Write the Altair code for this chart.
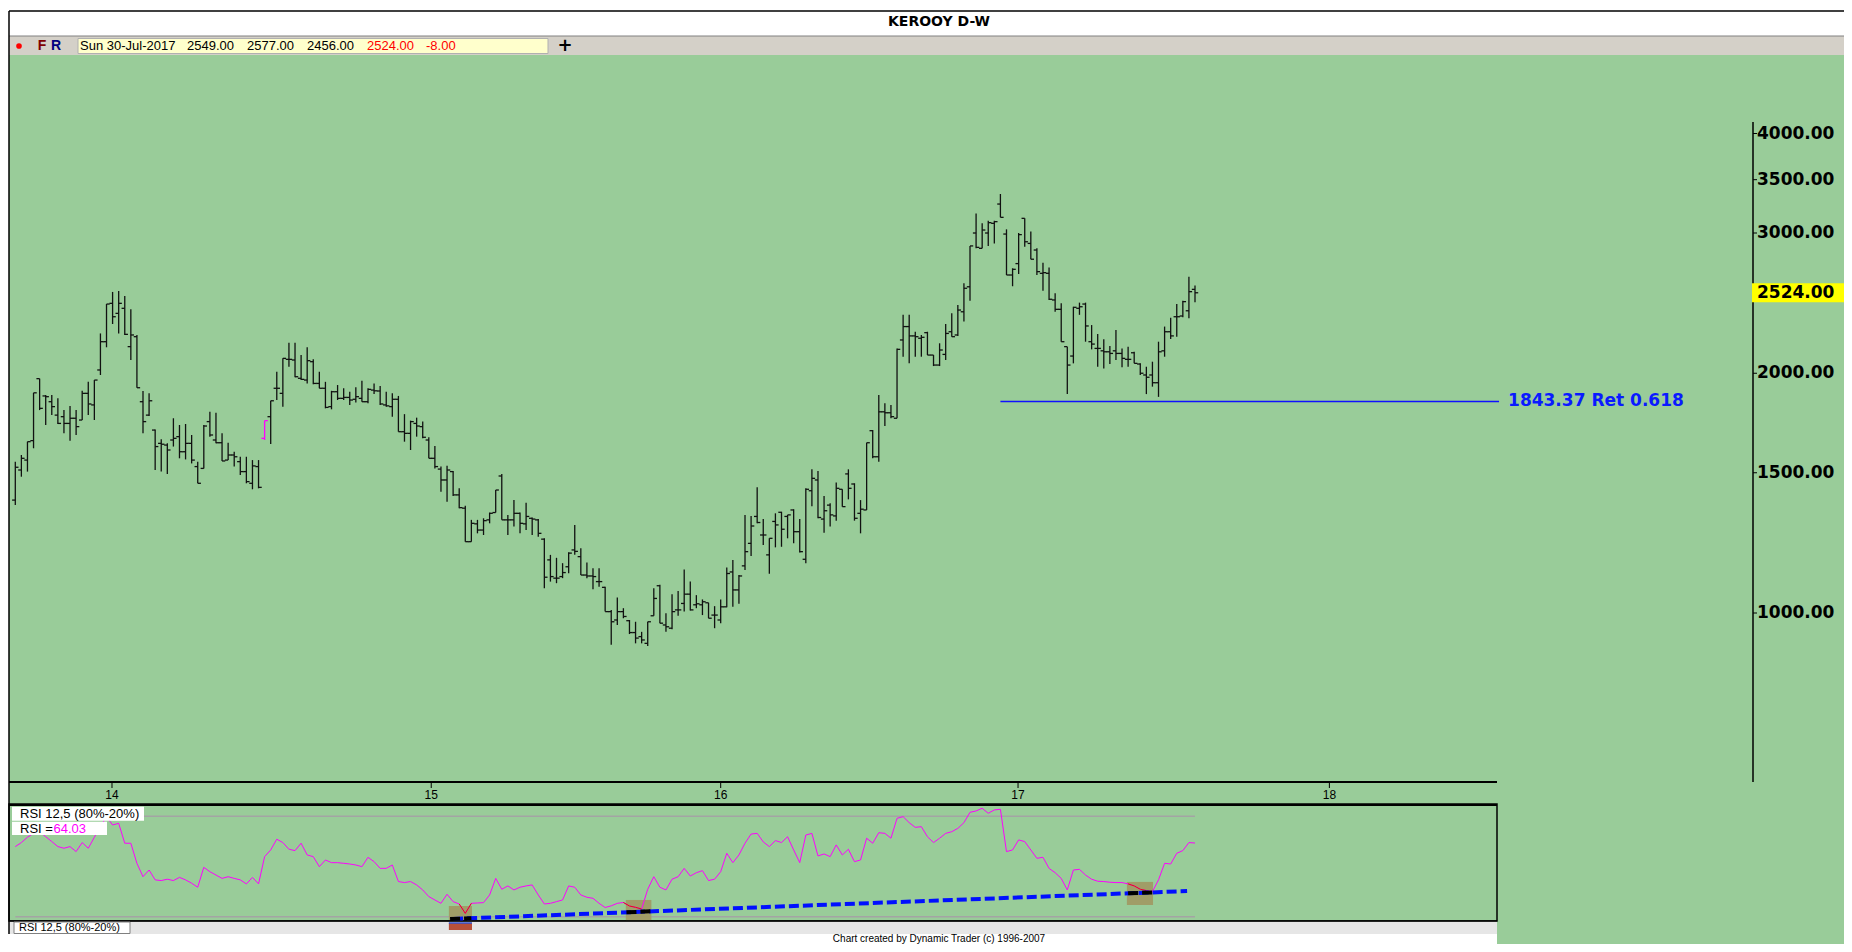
import altair as alt
import pandas as pd

# ---------------- data ----------------
TITLE = "KEROOY D-W"
LAST_DATE = "Sun 30-Jul-2017"

OPEN = [1386, 1512, 1556, 1646, 1969, 1873, 1842, 1772, 1764, 1730,
        1756, 1747, 1887, 1825, 2019, 2191, 2448, 2378, 2413, 2160,
        2223, 1842, 1772, 1697, 1633, 1625, 1649, 1665, 1594, 1633,
        1527, 1519, 1739, 1649, 1636, 1556, 1579, 1549, 1505, 1455,
        1527, 1657, 1764, 1915, 1887, 2082, 2078, 1971, 1961, 2068,
        1942, 1915, 1816, 1896, 1860, 1865, 1855, 1860, 1842, 1905,
        1900, 1825, 1816, 1855, 1689, 1681, 1730, 1714, 1649, 1564,
        1516, 1469, 1505, 1407, 1354, 1229, 1294, 1271, 1309, 1337,
        1486, 1309, 1309, 1334, 1294, 1315, 1309, 1238, 1166, 1106,
        1111, 1143, 1200, 1177, 1116, 1113, 1095, 1077, 1004, 980,
        1004, 978, 945, 934, 916, 992, 1082, 966, 957, 1009,
        1028, 1056, 1024, 1024, 1030, 994, 980, 1018, 1126, 1069,
        1146, 1223, 1322, 1253, 1183, 1303, 1338, 1322, 1347, 1265,
        1168, 1424, 1469, 1312, 1366, 1324, 1430, 1495, 1452, 1334,
        1347, 1694, 1571, 1789, 1784, 1756, 2202, 2289, 2228, 2213,
        2249, 2108, 2048, 2112, 2255, 2234, 2389, 2568, 3000, 2870,
        3000, 3085, 3262, 2991, 2657, 2746, 3130, 2911, 2856, 2670,
        2670, 2472, 2406, 2160, 2102, 2413, 2443, 2191, 2149, 2134,
        2128, 2134, 2118, 2082, 2122, 2054, 1990, 1990, 1946, 2134,
        2255, 2355, 2360, 2396, 2549]
HIGH = [1549, 1579, 1641, 1890, 1969, 1878, 1878, 1860, 1798, 1819,
        1798, 1901, 1951, 1961, 2244, 2443, 2530, 2537, 2501, 2406,
        2234, 1900, 1887, 1700, 1652, 1633, 1756, 1722, 1727, 1673,
        1549, 1722, 1789, 1784, 1681, 1636, 1594, 1571, 1571, 1556,
        1556, 1744, 1847, 2009, 2088, 2185, 2185, 2108, 2156, 2082,
        2009, 1951, 1901, 1933, 1915, 1896, 1920, 1957, 1915, 1942,
        1927, 1896, 1887, 1873, 1777, 1744, 1759, 1739, 1662, 1621,
        1527, 1531, 1508, 1434, 1364, 1309, 1309, 1315, 1337, 1427,
        1495, 1328, 1386, 1337, 1375, 1318, 1312, 1241, 1183, 1173,
        1155, 1192, 1290, 1206, 1157, 1138, 1138, 1079, 1009, 1046,
        1014, 980, 975, 947, 975, 1074, 1085, 999, 1056, 1066,
        1134, 1095, 1053, 1040, 1030, 1020, 1040, 1141, 1166, 1116,
        1328, 1324, 1438, 1312, 1241, 1334, 1340, 1328, 1350, 1312,
        1434, 1515, 1508, 1403, 1373, 1458, 1430, 1515, 1455, 1386,
        1636, 1697, 1878, 1834, 1825, 2149, 2368, 2368, 2255, 2234,
        2255, 2108, 2181, 2306, 2378, 2437, 2594, 2890, 3174, 3086,
        3109, 3109, 3358, 3032, 2709, 3000, 3130, 3012, 2870, 2753,
        2716, 2520, 2448, 2160, 2424, 2453, 2453, 2299, 2240, 2206,
        2164, 2266, 2149, 2160, 2128, 2058, 2038, 2068, 2191, 2289,
        2348, 2443, 2467, 2644, 2577]
LOW = [1366, 1483, 1505, 1610, 1798, 1722, 1772, 1727, 1681, 1646,
       1673, 1747, 1772, 1747, 1990, 2156, 2306, 2244, 2234, 2078,
       1918, 1681, 1767, 1512, 1505, 1495, 1618, 1564, 1559, 1541,
       1455, 1519, 1665, 1633, 1552, 1556, 1527, 1490, 1455, 1430,
       1434, 1649, 1630, 1851, 1816, 2038, 1977, 1961, 1942, 1938,
       1915, 1807, 1802, 1851, 1851, 1825, 1838, 1842, 1834, 1883,
       1825, 1816, 1764, 1689, 1641, 1602, 1665, 1657, 1564, 1519,
       1420, 1379, 1403, 1354, 1229, 1229, 1259, 1253, 1296, 1337,
       1309, 1253, 1284, 1259, 1271, 1253, 1247, 1074, 1095, 1090,
       1106, 1122, 1183, 1116, 1106, 1071, 1079, 1004, 912, 966,
       985, 941, 916, 916, 909, 992, 971, 947, 954, 992,
       1004, 1007, 1014, 994, 985, 957, 971, 1017, 1018, 1027,
       1132, 1179, 1296, 1217, 1120, 1209, 1211, 1241, 1223, 1191,
       1155, 1362, 1315, 1261, 1284, 1306, 1360, 1389, 1306, 1259,
       1347, 1564, 1549, 1717, 1756, 1756, 2098, 2058, 2098, 2098,
       2108, 2042, 2042, 2078, 2223, 2228, 2322, 2467, 2870, 2870,
       2890, 2910, 3139, 2657, 2572, 2665, 2884, 2781, 2657, 2539,
       2472, 2389, 2191, 1883, 2058, 2368, 2191, 2143, 2038, 2028,
       2054, 2078, 2035, 2038, 2058, 1990, 1883, 1924, 1868, 2098,
       2208, 2223, 2351, 2344, 2456]
CLOSE = [1524, 1564, 1641, 1890, 1807, 1869, 1816, 1730, 1730, 1756,
         1714, 1887, 1830, 1961, 2191, 2443, 2355, 2448, 2238, 2234,
         1918, 1739, 1847, 1618, 1629, 1602, 1657, 1594, 1633, 1556,
         1455, 1717, 1673, 1636, 1552, 1579, 1571, 1505, 1462, 1530,
         1438, 1744, 1847, 1915, 2088, 2082, 1980, 1965, 2074, 1942,
         1915, 1812, 1896, 1860, 1865, 1851, 1869, 1842, 1909, 1901,
         1830, 1820, 1855, 1689, 1681, 1739, 1717, 1662, 1564, 1527,
         1469, 1512, 1407, 1356, 1229, 1296, 1271, 1306, 1334, 1427,
         1309, 1309, 1334, 1296, 1322, 1312, 1259, 1109, 1111, 1106,
         1124, 1189, 1195, 1116, 1113, 1111, 1095, 1004, 975, 1004,
         990, 945, 930, 925, 975, 1043, 971, 961, 1004, 1009,
         1056, 1009, 1027, 1033, 985, 994, 1018, 1121, 1069, 1113,
         1194, 1286, 1299, 1253, 1241, 1290, 1274, 1328, 1265, 1194,
         1430, 1476, 1318, 1344, 1328, 1434, 1360, 1434, 1315, 1350,
         1636, 1571, 1789, 1784, 1764, 2143, 2289, 2228, 2223, 2219,
         2108, 2048, 2139, 2244, 2223, 2401, 2557, 2890, 2878, 3026,
         3091, 3100, 3139, 2657, 2701, 2986, 2925, 2781, 2683, 2675,
         2477, 2406, 2191, 2048, 2420, 2424, 2293, 2176, 2149, 2128,
         2118, 2118, 2088, 2082, 2058, 2000, 1977, 1946, 2128, 2255,
         2228, 2355, 2460, 2532, 2524]
SPECIAL_BAR = 41  # the bar drawn in magenta

RSI = [61.9, 64.3, 67.5, 69.8, 70.8, 67.8, 64.9, 61.9, 60.9, 61.9,
       58.9, 64.3, 60.9, 67.5, 73.8, 79.8, 74.8, 75.8, 63.9, 63.9,
       51.9, 43.9, 47.9, 42.0, 41.6, 42.4, 41.6, 43.5, 42.0, 40.0,
       37.6, 49.5, 46.9, 44.9, 42.9, 43.9, 42.9, 42.0, 39.6, 43.5,
       39.6, 55.9, 59.9, 66.3, 64.3, 60.3, 59.5, 63.9, 56.9, 55.9,
       49.9, 53.9, 52.3, 52.3, 51.9, 51.5, 50.9, 49.9, 55.5, 52.9,
       48.9, 48.9, 50.9, 41.0, 40.4, 41.0, 39.0, 36.0, 32.0, 30.0,
       28.0, 33.4, 29.0, 27.6, 22.0, 28.0, 28.2, 28.4, 33.0, 42.9,
       36.4, 38.4, 36.0, 37.6, 38.4, 39.0, 33.0, 27.6, 28.0, 29.0,
       30.0, 38.4, 37.6, 33.0, 31.6, 31.0, 28.0, 25.5, 26.5, 28.0,
       28.5, 26.4, 25.6, 24.6, 36.4, 43.9, 37.6, 36.0, 42.4, 43.9,
       48.9, 44.3, 46.3, 47.5, 41.6, 42.4, 46.9, 57.9, 52.3, 56.9,
       63.9, 69.4, 69.8, 64.7, 61.9, 65.5, 64.3, 67.8, 59.9, 52.3,
       68.8, 69.8, 56.3, 57.5, 55.9, 62.9, 56.9, 60.3, 52.9, 53.9,
       66.9, 63.9, 70.2, 69.8, 66.9, 78.8, 79.8, 76.2, 73.4, 73.8,
       67.8, 64.3, 66.9, 69.8, 70.8, 72.8, 76.2, 82.4, 83.2, 84.8,
       81.8, 83.8, 84.2, 58.9, 59.9, 65.9, 64.9, 59.9, 54.9, 55.5,
       48.9, 46.3, 42.9, 36.0, 47.9, 48.3, 44.9, 42.4, 41.2, 41.0,
       40.6, 40.4, 40.4, 39.6, 38.4, 36.4, 35.6, 35.0, 42.0, 51.9,
       51.5, 57.9, 59.5, 64.3, 64.03]
RSI_LABEL = "RSI 12,5 (80%-20%)"
RSI_LEVELS = [80, 20]

YEAR_LABELS = ["14", "15", "16", "17", "18"]
YEAR_POS = [15.9, 68.4, 116.0, 164.9, 216.1]   # in bar numbers

PRICE_TICKS = [1000, 1500, 2000, 3000, 3500, 4000]

RET_LEVEL = 1843.37
RET_RATIO = "0.618"
RET_FROM, RET_TO = 162, 244

TREND_I = [72.0, 192.7]
TREND_R = [18.7, 35.3]
BOX_I0 = [71.3, 100.4, 182.8]
BOX_I1 = [75.1, 104.6, 187.1]
BOX_TOP = [26.4, 30.0, 40.8]
BOX_BOT = [18.0, 18.0, 27.0]
BLACK_I0 = [71.5, 100.5, 183.0]
BLACK_I1 = [75.0, 104.5, 187.0]
BLACK_R0 = [18.6, 22.6, 34.0]
BLACK_R1 = [19.1, 23.2, 34.5]
RED_FROM = [73, 100, 183]
RED_TO = [75, 103, 186]

FOOTER = "Chart created by Dynamic Trader  (c) 1996-2007"

# ---------------- build ----------------
W, H = 1836, 936
GREEN = "#99cc99"
n = len(CLOSE)

XS = alt.Scale(domain=[0, n - 1], range=[7.3, 1187], nice=False, zero=False)
PY = alt.Scale(type="log", domain=[1000, 4000], range=[605, 125.5], nice=False)
RY = alt.Scale(domain=[20, 80], range=[908.7, 808.3], nice=False, zero=False)

one = pd.DataFrame({"k": [0]})


def box(x, y, x2, y2, fill, stroke=None, sw=1.0):
    kw = {"fill": fill}
    if stroke:
        kw.update(stroke=stroke, strokeWidth=sw)
    else:
        kw.update(strokeWidth=0)
    return alt.Chart(one).mark_rect(**kw).encode(
        x=alt.value(x), x2=alt.value(x2), y=alt.value(y), y2=alt.value(y2))


def hline(x, x2, y, color="black", sw=1.0):
    return alt.Chart(one).mark_rule(color=color, strokeWidth=sw).encode(
        x=alt.value(x), x2=alt.value(x2), y=alt.value(y))


def vline(x, y, y2, color="black", sw=1.0):
    return alt.Chart(one).mark_rule(color=color, strokeWidth=sw).encode(
        x=alt.value(x), y=alt.value(y), y2=alt.value(y2))


def label(x, y, text, size=13, color="black", font="Liberation Sans",
          weight="normal", align="left"):
    return alt.Chart(one).mark_text(
        text=text, fontSize=size, color=color, font=font, fontWeight=weight,
        align=align, baseline="middle").encode(x=alt.value(x), y=alt.value(y))


layers = []
# window chrome
layers += [
    box(1, 47, W, H, GREEN),
    box(1, 3, W, 28, "white"),
    box(1, 28, W, 47, "#d4d0c8"),
    hline(1, W, 28, "#808080", 1),
    hline(1, W, 3, "black", 1.5),
    label(931, 14, TITLE, 14, font="DejaVu Sans", weight="bold", align="center"),
    alt.Chart(one).mark_circle(color="#ff0000", size=32, opacity=1).encode(
        x=alt.value(11), y=alt.value(38)),
    label(34, 38, "F", 14, "#800000", weight="bold", align="center"),
    label(48, 38, "R", 14, "#000080", weight="bold", align="center"),
    box(70, 30.5, 540, 45.5, "#ffffcc", "#b0b0b0", 1),
    label(72, 38, LAST_DATE),
    label(179, 38, f"{OPEN[-1]:.2f}"),
    label(239, 38, f"{HIGH[-1]:.2f}"),
    label(299, 38, f"{LOW[-1]:.2f}"),
    label(359, 38, f"{CLOSE[-1]:.2f}", color="#ff0000"),
    label(418, 38, f"{CLOSE[-1] - CLOSE[-2]:.2f}", color="#ff0000"),
    label(557, 38, "+", 18, font="DejaVu Sans", weight="bold", align="center"),
]
# RSI panel, strip and footer
layers += [
    box(1, 796, 1489, 913, GREEN, "black", 1.5),
    hline(1, 1489, 797, "black", 2),
    box(1, 913.5, 1489, 926, "#e6e6e6"),
    hline(1, 1489, 913, "black", 1.5),
    box(6, 914, 122, 925.5, "white", "#808080", 1),
    label(11, 920, RSI_LABEL, 11),
    box(1, 926, 1489, H, "white"),
    label(931, 931, FOOTER, 10, align="center"),
    vline(1, 3, 926, "black", 1.5),
]
# date axis
years = pd.DataFrame({"i": YEAR_POS, "t": YEAR_LABELS})
layers += [
    hline(1, 1489, 774, "black", 2),
    alt.Chart(years).mark_rule(color="black", strokeWidth=1).encode(
        x=alt.X("i:Q", scale=XS, axis=None), y=alt.value(775), y2=alt.value(780)),
    alt.Chart(years).mark_text(fontSize=12, font="Liberation Sans", color="black",
                               baseline="middle").encode(
        x=alt.X("i:Q", scale=XS, axis=None), y=alt.value(787), text="t:N"),
]
# price axis
pt = pd.DataFrame({"v": PRICE_TICKS})
last = pd.DataFrame({"v": [CLOSE[-1]]})
layers += [
    vline(1745, 114, 774, "black", 1.5),
    alt.Chart(pt).mark_rule(color="black", strokeWidth=1).encode(
        x=alt.value(1745), x2=alt.value(1749), y=alt.Y("v:Q", scale=PY, axis=None)),
    alt.Chart(pt).mark_text(fontSize=17, font="DejaVu Sans", fontWeight="bold",
                            color="black", align="left", baseline="middle").encode(
        x=alt.value(1749), y=alt.Y("v:Q", scale=PY, axis=None),
        text=alt.Text("v:Q", format=".2f")),
    alt.Chart(last).mark_rect(color="#ffff00", yOffset=-9.5, y2Offset=9.5).encode(
        x=alt.value(1744), x2=alt.value(W), y=alt.Y("v:Q", scale=PY, axis=None),
        y2=alt.Y2("v:Q")),
    alt.Chart(last).mark_text(fontSize=17, font="DejaVu Sans", fontWeight="bold",
                              color="black", align="left", baseline="middle").encode(
        x=alt.value(1749), y=alt.Y("v:Q", scale=PY, axis=None),
        text=alt.Text("v:Q", format=".2f")),
]
# retracement
ret = pd.DataFrame({"a": [RET_FROM], "b": [RET_TO], "v": [RET_LEVEL],
                    "t": [f"{RET_LEVEL:.2f} Ret {RET_RATIO}"]})
layers += [
    alt.Chart(ret).mark_rule(color="#1010ff", strokeWidth=1.5).encode(
        x=alt.X("a:Q", scale=XS, axis=None), x2="b:Q",
        y=alt.Y("v:Q", scale=PY, axis=None)),
    alt.Chart(ret).mark_text(fontSize=17, font="DejaVu Sans", fontWeight="bold",
                             color="#0a1aff", align="left", baseline="middle",
                             dx=9).encode(
        x=alt.X("b:Q", scale=XS, axis=None), y=alt.Y("v:Q", scale=PY, axis=None),
        text="t:N"),
]
# price bars
bars = pd.DataFrame({"i": range(n), "open": OPEN, "high": HIGH,
                     "low": LOW, "close": CLOSE})


def bar_layers(df, color):
    base = alt.Chart(df)
    xe = alt.X("i:Q", scale=XS, axis=None)
    return [
        base.mark_rule(color=color, strokeWidth=1.3).encode(
            x=xe, y=alt.Y("low:Q", scale=PY, axis=None), y2="high:Q"),
        base.mark_rule(color=color, strokeWidth=1.3, xOffset=-3.2).encode(
            x=xe, x2="i:Q", y=alt.Y("open:Q", scale=PY, axis=None)),
        base.mark_rule(color=color, strokeWidth=1.3, x2Offset=3.2).encode(
            x=xe, x2="i:Q", y=alt.Y("close:Q", scale=PY, axis=None)),
    ]


layers += bar_layers(bars[bars.i != SPECIAL_BAR], "#111111")
layers += bar_layers(bars[bars.i == SPECIAL_BAR], "#ff00ff")

# RSI study
lev = pd.DataFrame({"a": [0] * len(RSI_LEVELS), "b": [n - 1] * len(RSI_LEVELS),
                    "v": RSI_LEVELS})
boxes = pd.DataFrame({"a": BOX_I0, "b": BOX_I1, "t": BOX_TOP, "u": BOX_BOT})
rsi = pd.DataFrame({"i": range(n), "r": RSI})
red_rows = []
for g, (a, b) in enumerate(zip(RED_FROM, RED_TO)):
    for i in range(a, b + 1):
        red_rows.append({"i": i, "r": RSI[i], "g": g})
red = pd.DataFrame(red_rows)
trend = pd.DataFrame({"i": TREND_I, "r": TREND_R})
blk_rows = []
for g in range(len(BLACK_I0)):
    blk_rows.append({"i": BLACK_I0[g], "r": BLACK_R0[g], "g": g})
    blk_rows.append({"i": BLACK_I1[g], "r": BLACK_R1[g], "g": g})
blk = pd.DataFrame(blk_rows)
first_box = pd.DataFrame({"a": [BOX_I0[0]], "b": [BOX_I1[0]]})

xr = alt.X("i:Q", scale=XS, axis=None)
yr = alt.Y("r:Q", scale=RY, axis=None)
layers += [
    alt.Chart(lev).mark_rule(color="#a4a4a4", strokeWidth=1.5).encode(
        x=alt.X("a:Q", scale=XS, axis=None), x2="b:Q",
        y=alt.Y("v:Q", scale=RY, axis=None)),
    alt.Chart(boxes).mark_rect(color="#a09a64", opacity=0.95).encode(
        x=alt.X("a:Q", scale=XS, axis=None), x2="b:Q",
        y=alt.Y("t:Q", scale=RY, axis=None), y2="u:Q"),
    alt.Chart(first_box).mark_rect(color="#b8503a").encode(
        x=alt.X("a:Q", scale=XS, axis=None), x2="b:Q",
        y=alt.value(915), y2=alt.value(922)),
    alt.Chart(first_box).mark_rule(color="#3050d0", strokeWidth=1.5).encode(
        x=alt.X("a:Q", scale=XS, axis=None), x2="b:Q", y=alt.value(915)),
    alt.Chart(rsi).mark_line(color="#ff00ff", strokeWidth=1).encode(x=xr, y=yr),
    alt.Chart(red).mark_line(color="#e01010", strokeWidth=1).encode(
        x=xr, y=yr, detail="g:N"),
    alt.Chart(trend).mark_line(color="#0010ff", strokeWidth=4, strokeDash=[10, 4],
                               strokeCap="butt").encode(x=xr, y=yr),
    alt.Chart(blk).mark_line(color="black", strokeWidth=4, strokeDash=[10, 4],
                             strokeCap="butt").encode(x=xr, y=yr, detail="g:N"),
    box(4, 798.7, 136, 812.7, "white"),
    label(12, 806, RSI_LABEL, 13),
    box(4, 813.7, 99, 827, "white"),
    label(12, 821, "RSI =", 13),
    label(45.5, 821, f"{RSI[-1]:.2f}", 13, "#ff00ff"),
]

chart = alt.layer(*layers).resolve_scale(x="independent", y="independent").properties(
    width=W, height=H, padding=0,
    autosize=alt.AutoSizeParams(type="none"),
    background="white",
).configure_view(stroke=None)

chart.save("out.html", embed_options={"renderer": "svg", "actions": False})
